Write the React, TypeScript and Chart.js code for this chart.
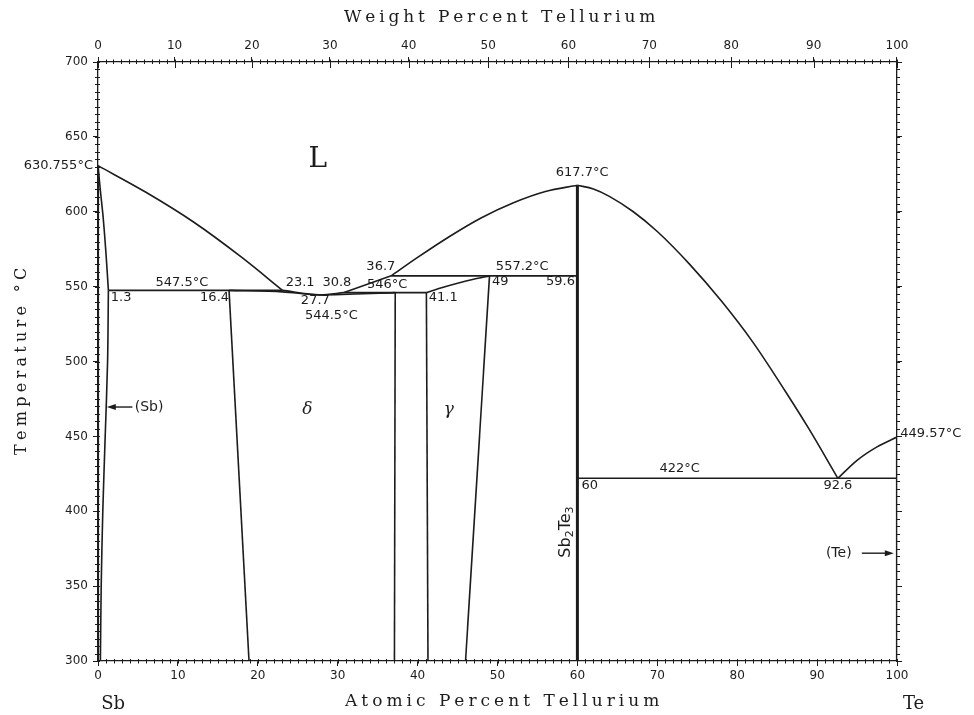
import React, { useEffect, useRef } from "react";
import { Chart, registerables } from "chart.js";

Chart.register(...registerables);

// ---- axis ticks ----
const AT_TICKS = [0, 10, 20, 30, 40, 50, 60, 70, 80, 90, 100];
const WT_TICKS = [0, 10, 20, 30, 40, 50, 60, 70, 80, 90, 100];
const TEMP_TICKS = [300, 350, 400, 450, 500, 550, 600, 650, 700];

// ---- phase boundaries: [atomic % Te, temperature °C] ----
const SB_SOLIDUS = [[0, 630.755], [0.3, 614], [0.65, 596], [1.0, 572], [1.3, 547.5]];
const SB_SOLVUS = [[1.3, 547.5], [1.2, 500], [0.9, 450], [0.6, 400], [0.4, 350], [0.3, 300]];
const SB_EDGE = [[0, 630.755], [0, 300]];
const LIQ_LEFT = [[0, 630.755], [6, 613], [12, 593], [18, 569.5], [23.1, 547.5]];
const ISO_547 = [[1.3, 547.5], [23.1, 547.5]];
const LIQ_DELTA = [[23.1, 547.5], [27.7, 544.5], [30.8, 546]];
const DELTA_SOLIDUS = [[16.4, 547.5], [23.1, 546.5], [27.7, 544.5], [37.2, 546]];
const ISO_546 = [[30.8, 546], [41.1, 546]];
const LIQ_MID = [[30.8, 546], [36.7, 557.2]];
const LIQ_SB2TE3_LEFT = [[36.7, 557.2], [40, 569.5], [44, 583.5], [48, 596], [52, 606], [56, 613.5], [60, 617.7]];
const ISO_557 = [[36.7, 557.2], [60, 557.2]];
const GAMMA_TOP = [[41.1, 546], [43, 549.2], [45, 552.2], [47, 554.9], [49, 557.2]];
const GAMMA_LEFT = [[41.1, 546], [41.3, 300]];
const GAMMA_RIGHT = [[49, 557.2], [46, 300]];
const DELTA_LEFT = [[16.4, 547.5], [18.9, 300]];
const DELTA_RIGHT = [[37.2, 546], [37.1, 300]];
const SB2TE3_LINE = [[60, 617.7], [60, 300]];
const LIQ_RIGHT = [[60, 617.7], [62, 615.2], [64, 610.3], [67, 600], [70, 586.8], [74, 565.2], [78, 540.5], [82, 512.6], [86, 480.3], [89, 454.8], [92.6, 422]];
const LIQ_TE = [[92.6, 422], [95, 434], [97.5, 443], [100, 449.57]];
const ISO_422 = [[60, 422], [100, 422]];
const TE_EDGE = [[100, 449.57], [100, 300]];

// ---- text annotations: [text, atomic %, temperature, align, kind] ----
const LABELS: [string, number, number, CanvasTextAlign, string][] = [
  ["630.755°C", -0.63, 630.6, "right", "num"],
  ["L", 27.5, 634.6, "center", "big"],
  ["617.7°C", 60.6, 625.9, "center", "num"],
  ["36.7", 35.4, 563.1, "center", "num"],
  ["557.2°C", 53.1, 563.1, "center", "num"],
  ["547.5°C", 10.5, 552.4, "center", "num"],
  ["23.1", 25.3, 552.4, "center", "num"],
  ["30.8", 29.9, 552.4, "center", "num"],
  ["546°C", 36.2, 551.1, "center", "num"],
  ["1.3", 1.6, 542.4, "left", "num"],
  ["16.4", 16.4, 542.4, "right", "num"],
  ["27.7", 27.2, 540.4, "center", "num"],
  ["544.5°C", 29.2, 530.4, "center", "num"],
  ["41.1", 41.4, 542.4, "left", "num"],
  ["49", 49.3, 553.1, "left", "num"],
  ["59.6", 59.7, 553.1, "right", "num"],
  ["δ", 26.2, 467.6, "center", "greek"],
  ["γ", 43.9, 467.6, "center", "greek"],
  ["(Sb)", 4.6, 469.6, "left", "phase"],
  ["422°C", 72.8, 428.2, "center", "num"],
  ["60", 60.5, 416.9, "left", "num"],
  ["92.6", 92.6, 416.9, "center", "num"],
  ["449.57°C", 100.4, 451.6, "left", "num"],
  ["(Te)", 91.1, 372, "left", "phase"],
  ["Sb", 0.4, 271.3, "left", "elem"],
  ["Te", 100.75, 271.3, "left", "elem"],
];

// arrows: [from at%, to at%, temperature]
const ARROWS = [[4.3, 1.1, 469.6], [95.6, 99.6, 372]];

const M_TE = 127.6;
const M_SB = 121.76;
function wtToAt(w: number) {
  const te = w / M_TE;
  const sb = (100 - w) / M_SB;
  return (100 * te) / (te + sb);
}

const INK = "#1c1c1c";
const FONTS: Record<string, string> = {
  num: '13px "DejaVu Sans"',
  big: '28px "DejaVu Serif"',
  greek: 'italic 17px "DejaVu Serif"',
  phase: '14px "DejaVu Sans"',
  elem: '18px "DejaVu Serif"',
};

function spacedText(ctx: CanvasRenderingContext2D, text: string, cx: number, cy: number, width: number) {
  (ctx as any).letterSpacing = "0px";
  const w = ctx.measureText(text).width;
  const sp = Math.max(0, (width - w) / (text.length - 1));
  let x = cx - width / 2;
  for (const ch of text) {
    ctx.fillText(ch, x, cy);
    x += ctx.measureText(ch).width + sp;
  }
}

const decor = {
  id: "decor",
  afterDraw(chart: any) {
    const { ctx, chartArea: ca, scales } = chart;
    const px = (v: number) => scales.x.getPixelForValue(v);
    const py = (v: number) => scales.y.getPixelForValue(v);
    ctx.save();
    ctx.strokeStyle = INK;
    ctx.fillStyle = INK;
    ctx.lineWidth = 1;
    ctx.beginPath();
    for (let t = 300; t <= 700; t += 5) {
      const y = Math.round(py(t)) + 0.5;
      ctx.moveTo(ca.left - 3, y);
      ctx.lineTo(ca.left + 2, y);
      ctx.moveTo(ca.right - 1, y);
      ctx.lineTo(ca.right + 3, y);
    }
    for (let a = 0; a <= 100; a++) {
      const x = Math.round(px(a)) + 0.5;
      ctx.moveTo(x, ca.bottom - 2);
      ctx.lineTo(x, ca.bottom + 2.5);
    }
    for (let w = 0; w <= 100; w++) {
      const x = Math.round(px(wtToAt(w))) + 0.5;
      ctx.moveTo(x, ca.top - 2.5);
      ctx.lineTo(x, ca.top + 2);
    }
    for (const w of WT_TICKS) {
      const x = Math.round(px(wtToAt(w))) + 0.5;
      ctx.moveTo(x, ca.top);
      ctx.lineTo(x, ca.top + 6);
    }
    ctx.stroke();

    // arrows
    ctx.lineWidth = 1.4;
    for (const [a0, a1, t] of ARROWS) {
      const x0 = px(a0), x1 = px(a1), y = py(t);
      const dir = Math.sign(x1 - x0);
      ctx.beginPath();
      ctx.moveTo(x0, y);
      ctx.lineTo(x1 - dir * 6, y);
      ctx.stroke();
      ctx.beginPath();
      ctx.moveTo(x1, y);
      ctx.lineTo(x1 - dir * 9, y - 3);
      ctx.lineTo(x1 - dir * 9, y + 3);
      ctx.closePath();
      ctx.fill();
    }

    // labels
    ctx.textBaseline = "middle";
    for (const [text, a, t, align, kind] of LABELS) {
      ctx.font = FONTS[kind];
      ctx.textAlign = align;
      ctx.fillText(text, px(a), py(t));
    }

    // Sb2Te3 rotated
    ctx.save();
    ctx.translate(px(58.6), py(386.1));
    ctx.rotate(-Math.PI / 2);
    const big = '16px "DejaVu Sans"';
    const small = '11px "DejaVu Sans"';
    const parts: [string, string, number][] = [["Sb", big, 0], ["2", small, 4], ["Te", big, 0], ["3", small, 4]];
    let total = 0;
    for (const [s, f] of parts) { ctx.font = f; total += ctx.measureText(s).width; }
    let x = -total / 2;
    ctx.textAlign = "left";
    for (const [s, f, dy] of parts) {
      ctx.font = f;
      ctx.fillText(s, x, dy);
      x += ctx.measureText(s).width;
    }
    ctx.restore();

    // axis titles
    ctx.font = '17px "DejaVu Serif"';
    ctx.textAlign = "left";
    spacedText(ctx, "Weight Percent Tellurium", 498, 18, 308);
    spacedText(ctx, "Atomic Percent Tellurium", 501, 702, 312);
    ctx.save();
    ctx.translate(22, 362);
    ctx.rotate(-Math.PI / 2);
    ctx.font = '16px "DejaVu Serif"';
    spacedText(ctx, "Temperature °C", 0, 0, 186);
    ctx.restore();

    ctx.restore();
  },
};

function series(points: number[][], width = 1.6, tension = 0, mono = false) {
  return {
    data: points.map(([x, y]) => ({ x, y })),
    showLine: true,
    pointRadius: 0,
    borderColor: INK,
    borderWidth: width,
    tension,
    cubicInterpolationMode: mono ? "monotone" : "default",
    fill: false,
  };
}

const tickFont = { family: "DejaVu Sans", size: 12 };

export default function App() {
  const ref = useRef<HTMLCanvasElement>(null);
  useEffect(() => {
    if (!ref.current) return;
    const chart = new Chart(ref.current, {
      type: "scatter",
      data: {
        datasets: [
          series(SB_SOLIDUS, 1.6, 0.3),
          series(SB_SOLVUS, 1.6, 0.3),
          series(SB_EDGE, 2.2),
          series(LIQ_LEFT, 1.6, 0.4, true),
          series(ISO_547, 1.6),
          series(LIQ_DELTA, 1.6, 0.3),
          series(DELTA_SOLIDUS, 1.6, 0.3),
          series(ISO_546, 1.6),
          series(LIQ_MID, 1.6),
          series(LIQ_SB2TE3_LEFT, 1.6, 0.4, true),
          series(ISO_557, 1.6),
          series(GAMMA_TOP, 1.6, 0.4, true),
          series(GAMMA_LEFT, 1.6),
          series(GAMMA_RIGHT, 1.6),
          series(DELTA_LEFT, 1.6),
          series(DELTA_RIGHT, 1.6),
          series(SB2TE3_LINE, 3),
          series(LIQ_RIGHT, 1.6, 0.4, true),
          series(LIQ_TE, 1.6, 0.4, true),
          series(ISO_422, 1.6),
          series(TE_EDGE, 2.2),
        ] as any,
      },
      options: {
        animation: false,
        responsive: false,
        events: [],
        layout: { padding: 0 },
        plugins: { legend: { display: false }, tooltip: { enabled: false } },
        scales: {
          x: {
            type: "linear",
            position: "bottom",
            min: 0,
            max: 100,
            afterBuildTicks: (s: any) => { s.ticks = AT_TICKS.map((v) => ({ value: v })); },
            ticks: { font: tickFont, color: INK, padding: 3, maxRotation: 0, autoSkip: false, callback: (v: any) => String(v) },
            grid: { drawOnChartArea: false, tickLength: 5, color: INK, tickColor: INK },
            border: { display: true, color: INK, width: 1.3 },
            afterFit: (s: any) => { s.height = 54; },
          },
          x2: {
            type: "linear",
            position: "top",
            min: 0,
            max: 100,
            afterBuildTicks: (s: any) => { s.ticks = WT_TICKS.map((w) => ({ value: wtToAt(w) })); },
            ticks: { font: tickFont, color: INK, padding: 4, maxRotation: 0, autoSkip: false, callback: (_v: any, i: number) => String(WT_TICKS[i]) },
            grid: { drawOnChartArea: false, tickLength: 5, color: INK, tickColor: INK },
            border: { display: true, color: INK, width: 1.3 },
            afterFit: (s: any) => { s.height = 62; },
          },
          y: {
            type: "linear",
            position: "left",
            min: 300,
            max: 700,
            afterBuildTicks: (s: any) => { s.ticks = TEMP_TICKS.map((v) => ({ value: v })); },
            ticks: { font: tickFont, color: INK, padding: 5, autoSkip: false, callback: (v: any) => String(v) },
            grid: { drawOnChartArea: false, tickLength: 5, color: INK, tickColor: INK },
            border: { display: true, color: INK, width: 1.3 },
            afterFit: (s: any) => { s.width = 98; },
          },
          y2: {
            type: "linear",
            position: "right",
            min: 300,
            max: 700,
            afterBuildTicks: (s: any) => { s.ticks = TEMP_TICKS.map((v) => ({ value: v })); },
            ticks: { display: false },
            grid: { drawOnChartArea: false, tickLength: 5, color: INK, tickColor: INK },
            border: { display: true, color: INK, width: 1.3 },
            afterFit: (s: any) => { s.width = 77; },
          },
        },
      } as any,
      plugins: [decor],
    });
    return () => chart.destroy();
  }, []);

  return (
    <div style={{ position: "absolute", left: 0, top: 0, width: 974, height: 715, background: "#fff" }}>
      <canvas ref={ref} width={974} height={715} style={{ display: "block" }} />
    </div>
  );
}
